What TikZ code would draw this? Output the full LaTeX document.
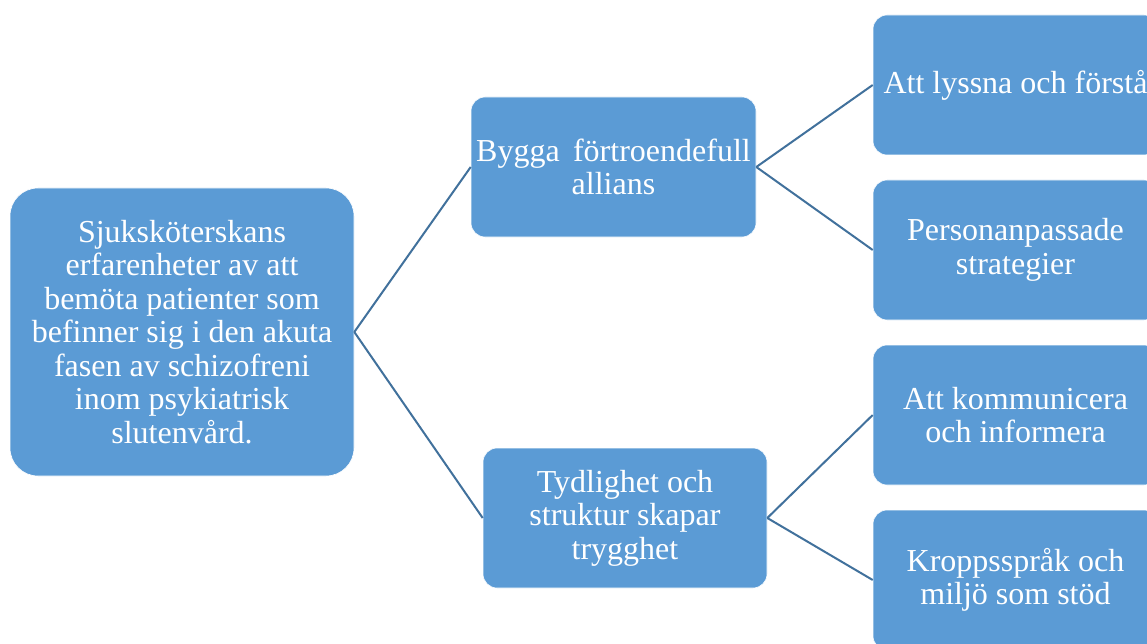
\documentclass[tikz,border=0pt]{standalone}
\usepackage{fontspec}
\setmainfont{Liberation Serif}
\definecolor{boxfill}{RGB}{91,155,213}
\definecolor{linkcol}{RGB}{65,113,156}
\begin{document}
\begin{tikzpicture}[x=1pt,y=-1pt,
  box/.style={rectangle, rounded corners=14pt, fill=boxfill, draw=white, line width=0.6pt,
    minimum width=285pt, minimum height=140pt, inner sep=0pt, align=center,
    text=white, font=\fontsize{32}{33.5}\selectfont},
  link/.style={draw=linkcol, line width=2pt}]
\clip (0,0) rectangle (1147,644);
\fill[white] (0,0) rectangle (1147,644);
\node[box, rounded corners=28pt, minimum width=344pt, minimum height=288pt] (root) at (182,332)
  {Sjuksköterskans\\erfarenheter av att\\bemöta patienter som\\befinner sig i den akuta\\fasen av schizofreni\\inom psykiatrisk\\slutenvård.};
\node[box] (a) at (613.5,167) {Bygga~\,förtroendefull\\allians};
\node[box, minimum width=284pt] (b) at (625,518) {Tydlighet och\\struktur skapar\\trygghet};
\node[box] (a1) at (1015.5,85) {Att lyssna och förstå};
\node[box] (a2) at (1015.5,250) {Personanpassade\\strategier};
\node[box] (b1) at (1015.5,415) {Att kommunicera\\och informera};
\node[box] (b2) at (1015.5,580) {Kroppsspråk och\\miljö som stöd};
\draw[link] (root.east) -- (a.west);
\draw[link] (root.east) -- (b.west);
\draw[link] (a.east) -- (a1.west);
\draw[link] (a.east) -- (a2.west);
\draw[link] (b.east) -- (b1.west);
\draw[link] (b.east) -- (b2.west);
\end{tikzpicture}
\end{document}
